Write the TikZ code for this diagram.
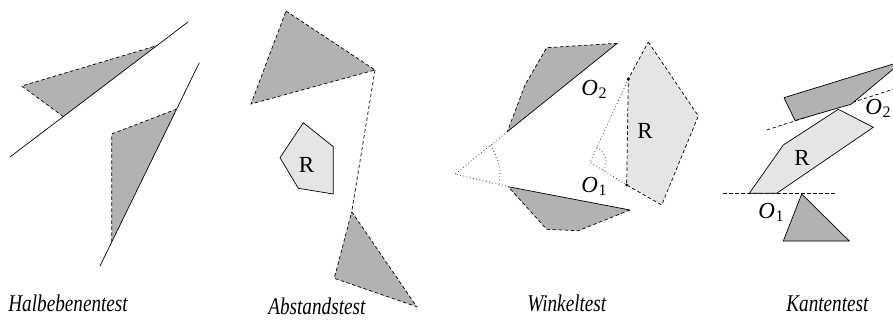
\documentclass[tikz,border=0pt]{standalone}
\usepackage{fontspec}
\setmainfont{Liberation Serif}
\newcommand\Olab[1]{\textit{O}\kern0.02em\raisebox{-0.3ex}{\fontsize{16}{16}\selectfont #1}}
\newcommand\captext[1]{\scalebox{0.8}[1]{\itshape #1}}
\begin{document}
\begin{tikzpicture}[x=1pt,y=-1pt,line width=0.7pt,
  dk/.style={fill=gray!60},
  lt/.style={fill=gray!20},
  dsh/.style={dash pattern=on 3.5pt off 2.5pt},
  dtt/.style={dash pattern=on 0.7pt off 2.6pt},
  lab/.style={font=\fontsize{23}{25}\selectfont, inner sep=0pt},
  captxt/.style={font=\fontsize{24}{26}\selectfont, inner sep=0pt, anchor=base west},
  dot/.style={circle, fill=black, inner sep=0pt, minimum size=3.4pt}]
\useasboundingbox (0,0) rectangle (893,324);
\clip (0,0) rectangle (893,324);

% ---------- Halbebenentest ----------
\coordinate (h1a) at (21.7,86);
\coordinate (h1b) at (156.7,45.7);
\coordinate (h1c) at (63.3,116.6);
\fill[dk] (h1a) -- (h1b) -- (h1c) -- cycle;
\draw[dsh] (h1c) -- (h1a) -- (h1b);
\coordinate (l1s) at (10,157);
\coordinate (l1e) at (188,22);
\draw (l1s) -- (l1e);
\coordinate (h2a) at (111.7,134);
\coordinate (h2b) at (176.7,109);
\coordinate (h2c) at (111.7,242);
\fill[dk] (h2a) -- (h2b) -- (h2c) -- cycle;
\draw[dsh] (h2b) -- (h2a) -- (h2c);
\coordinate (l2s) at (100,266);
\coordinate (l2e) at (199.3,62.7);
\draw (l2s) -- (l2e);

% ---------- Abstandstest ----------
\coordinate (a1a) at (286,11);
\coordinate (a1b) at (375,70);
\coordinate (a1c) at (251,104);
\filldraw[dk,dsh] (a1a) -- (a1b) -- (a1c) -- cycle;
\coordinate (a2a) at (351.7,211.7);
\coordinate (a2b) at (416.7,306.7);
\coordinate (a2c) at (334.3,278.3);
\filldraw[dk,dsh] (a2a) -- (a2b) -- (a2c) -- cycle;
\draw[dsh] (a1b) -- (a2a);
\filldraw[lt] (303.3,122.7) -- (333.3,146.7) -- (333.3,194) -- (298.3,188.3) -- (280,157.7) -- cycle;
\node[lab] (rA) at (306.5,164.5) {R};

% ---------- Winkeltest ----------
\coordinate (wA) at (455,174);
\coordinate (u1) at (507.3,131.7);
\coordinate (u2) at (617.3,43.3);
\coordinate (u3) at (546.7,47.7);
\coordinate (u4) at (525,85);
\fill[dk] (u1) -- (u2) -- (u3) -- (u4) -- cycle;
\draw (u1) -- (u2);
\draw[dsh] (u2) -- (u3) -- (u4) -- (u1);
\coordinate (d1) at (508.3,186.7);
\coordinate (d2) at (630,210);
\coordinate (d3) at (578.3,230.7);
\coordinate (d4) at (546.7,229.3);
\fill[dk] (d1) -- (d2) -- (d3) -- (d4) -- cycle;
\draw (d1) -- (d2);
\draw[dsh] (d2) -- (d3) -- (d4) -- (d1);
\draw[dtt] (u1) -- (wA) -- (d1);
\draw[dtt] (wA) ++(-39:45) arc[start angle=-39, end angle=13.4, radius=45];
\coordinate (o2) at (628.3,79);
\coordinate (o1) at (626.7,185);
\coordinate (wB) at (590,162);
\filldraw[lt,dsh] (648.3,42) -- (698.3,116) -- (661.7,205) -- (o1) -- (o2) -- cycle;
\draw[dtt] (o2) -- (wB) -- (o1);
\draw[dtt] (wB) ++(-65:16) arc[start angle=-65, end angle=32, radius=16];
\node[dot] (p2) at (o2) {};
\node[dot] (p1) at (o1) {};
\node[lab] (wR) at (645,131) {R};
\node[lab] (wO2) at (594,89) {\Olab{2}};
\node[lab] (wO1) at (594,186) {\Olab{1}};

% ---------- Kantentest ----------
\coordinate (k1s) at (766.7,130);
\coordinate (k1e) at (893,89.3);
\draw[dsh] (k1s) -- (k1e);
\coordinate (k2s) at (723,193.3);
\coordinate (k2e) at (835,193.3);
\draw[dsh] (k2s) -- (k2e);
\filldraw[dk] (784,97.7) -- (903,61) -- (851,104.3) -- (838,108) -- (795,120.5) -- cycle;
\filldraw[lt] (838.3,109.3) -- (873.3,127.3) -- (776.7,193.3) -- (749.3,193.3) -- (783.3,145) -- cycle;
\filldraw[dk] (801.7,194) -- (849.3,241) -- (783.3,241) -- cycle;
\node[lab] (kR) at (802,158) {R};
\node[lab] (kO2) at (878,108) {\Olab{2}};
\node[lab] (kO1) at (771,212) {\Olab{1}};

% ---------- captions ----------
\node[captxt] (c1) at (8,311) {\captext{Halbebenentest}};
\node[captxt] (c2) at (268,314) {\captext{Abstandstest}};
\node[captxt] (c3) at (527,311) {\captext{Winkeltest}};
\node[captxt] (c4) at (786,311) {\captext{Kantentest}};
\end{tikzpicture}
\end{document}
